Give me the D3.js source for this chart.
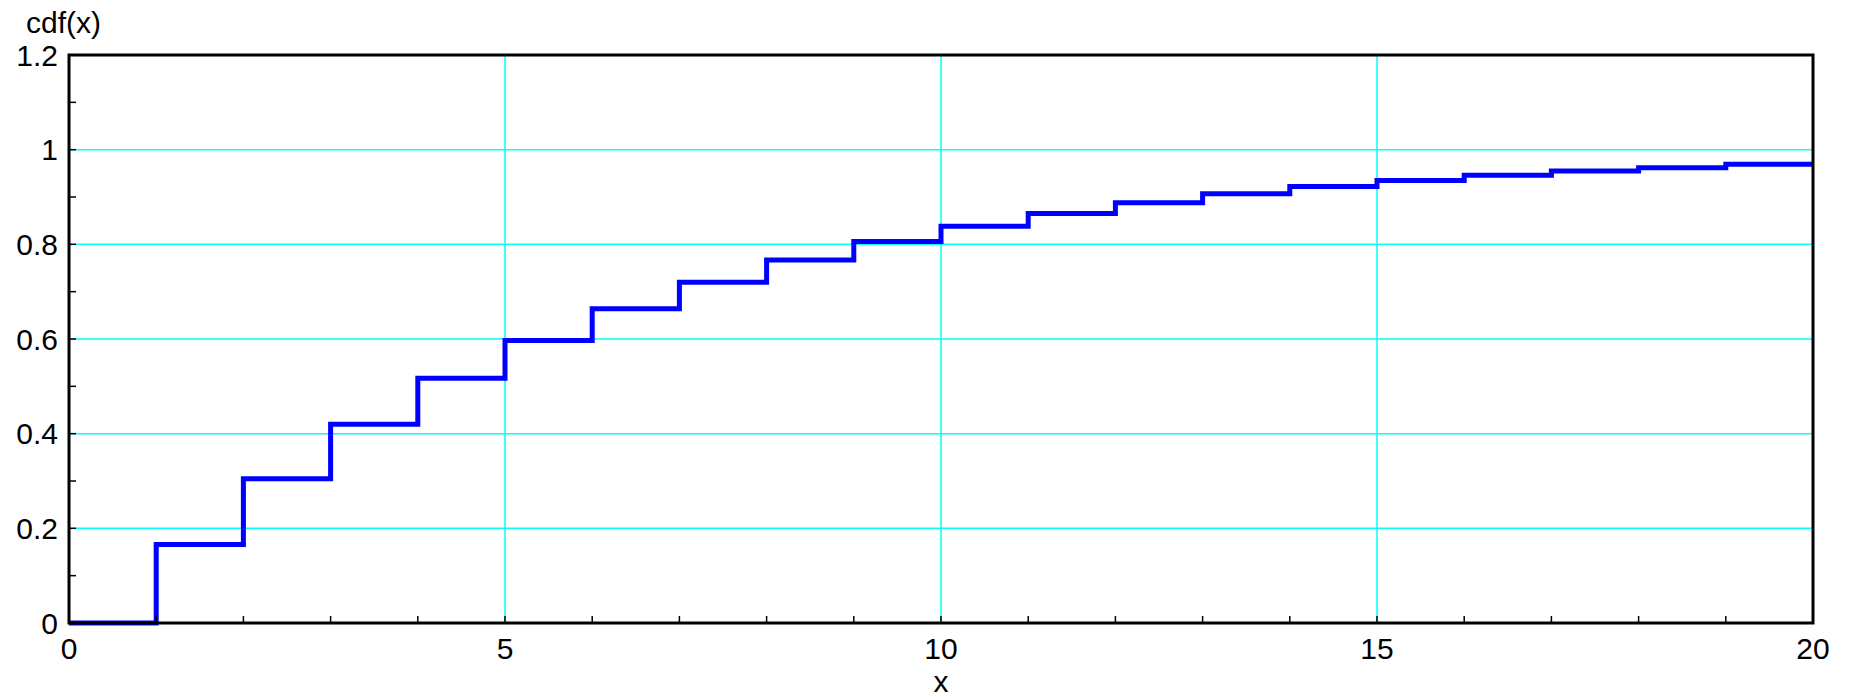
<!DOCTYPE html>
<html>
<head>
<meta charset="utf-8">
<script src="https://cdn.jsdelivr.net/npm/d3@7"></script>
<style>
  body { margin: 0; background: #fff; }
  text { font-family: "Liberation Sans", Arial, sans-serif; font-size: 30px; fill: #000; }
</style>
</head>
<body>
<div id="chart"></div>
<script>
// Step values of the cdf: cdf is constant on [k, k+1)
let steps = [0, 1, 2, 3, 4, 5, 6, 7, 8, 9, 10, 11, 12, 13, 14, 15, 16, 17, 18, 19, 20];
let cdfValues = [0, 0.166, 0.305, 0.420, 0.517, 0.597, 0.664, 0.720, 0.767, 0.806, 0.838,
  0.865, 0.888, 0.907, 0.922, 0.935, 0.946, 0.955, 0.962, 0.969, 0.969];
let xMajorTicks = [0, 5, 10, 15, 20];
let yMajorTicks = [0, 0.2, 0.4, 0.6, 0.8, 1, 1.2];
let xMinorTicks = d3.range(0, 21, 1);
let yMinorTicks = [0.1, 0.3, 0.5, 0.7, 0.9, 1.1];

let svgWidth = 1854;
let svgHeight = 697;
let margin = { top: 55, right: 41, bottom: 74, left: 69 };
let graphWidth = svgWidth - margin.left - margin.right;
let graphHeight = svgHeight - margin.top - margin.bottom;

let svg = d3.select('#chart')
  .append('svg')
  .attr('width', svgWidth)
  .attr('height', svgHeight)
  .append('g')
  .attr('transform', 'translate(' + margin.left + ',' + margin.top + ')');

let x = d3.scaleLinear().domain([0, 20]).range([0, graphWidth]);
let y = d3.scaleLinear().domain([0, 1.2]).range([graphHeight, 0]);

// Grid lines
svg.append('g')
  .selectAll('line')
  .data(yMajorTicks.slice(1, -1))
  .join('line')
  .attr('x1', 0).attr('x2', graphWidth)
  .attr('y1', (d) => y(d)).attr('y2', (d) => y(d))
  .style('stroke', '#00ffff')
  .style('stroke-width', '1.5px');
svg.append('g')
  .selectAll('line')
  .data(xMajorTicks.slice(1, -1))
  .join('line')
  .attr('y1', 0).attr('y2', graphHeight)
  .attr('x1', (d) => x(d)).attr('x2', (d) => x(d))
  .style('stroke', '#00ffff')
  .style('stroke-width', '1.5px');

// The step line
let points = steps.map((s, i) => [s, cdfValues[i]]);
let stepLine = d3.line()
  .x((d) => x(d[0]))
  .y((d) => y(d[1]))
  .curve(d3.curveStepAfter);
svg.append('path')
  .datum(points)
  .attr('d', stepLine)
  .style('fill', 'none')
  .style('stroke', '#0000ff')
  .style('stroke-width', '5px');

// Inward ticks
svg.append('g')
  .selectAll('line')
  .data(xMinorTicks)
  .join('line')
  .attr('x1', (d) => x(d)).attr('x2', (d) => x(d))
  .attr('y1', graphHeight).attr('y2', graphHeight - 7)
  .style('stroke', '#000').style('stroke-width', '1.5px');
svg.append('g')
  .selectAll('line')
  .data(yMinorTicks.concat(yMajorTicks))
  .join('line')
  .attr('x1', 0).attr('x2', 7)
  .attr('y1', (d) => y(d)).attr('y2', (d) => y(d))
  .style('stroke', '#000').style('stroke-width', '1.5px');

// Frame
svg.append('rect')
  .attr('x', 0).attr('y', 0)
  .attr('width', graphWidth).attr('height', graphHeight)
  .style('fill', 'none')
  .style('stroke', '#000')
  .style('stroke-width', '3px');

// Tick labels
svg.append('g')
  .selectAll('text')
  .data(xMajorTicks)
  .join('text')
  .attr('x', (d) => x(d))
  .attr('y', graphHeight + 36)
  .attr('text-anchor', 'middle')
  .text((d) => d);
svg.append('g')
  .selectAll('text')
  .data(yMajorTicks)
  .join('text')
  .attr('x', -11)
  .attr('y', (d) => y(d))
  .attr('dy', '0.35em')
  .attr('text-anchor', 'end')
  .text((d) => d);

// Axis titles
svg.append('text')
  .attr('x', graphWidth / 2)
  .attr('y', graphHeight + 69)
  .attr('text-anchor', 'middle')
  .text('x');
svg.append('text')
  .attr('x', -43)
  .attr('y', -22)
  .text('cdf(x)');
</script>
</body>
</html>
